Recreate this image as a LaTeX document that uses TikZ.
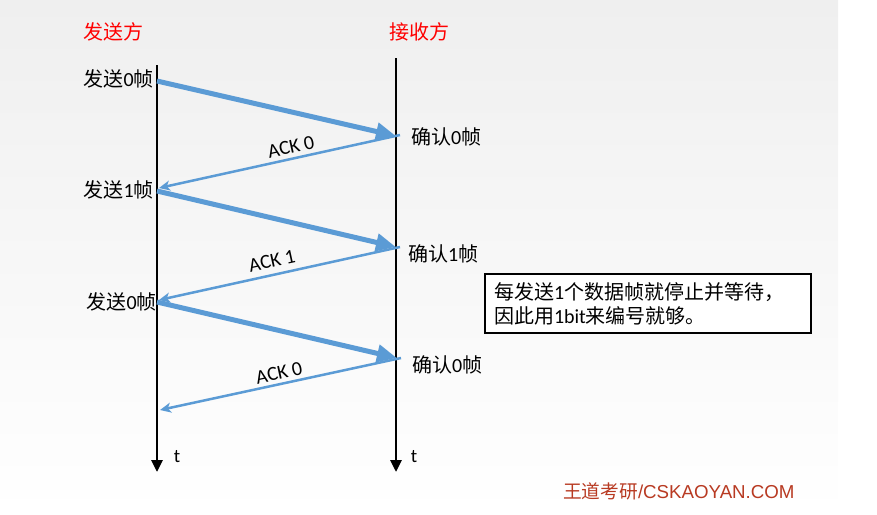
\documentclass[tikz,border=0pt]{standalone}
\usepackage{fontspec}
\setmainfont{Carlito}
\newfontfamily\cjk{Noto Sans CJK SC}
\newfontfamily\arialf{Liberation Sans}
\usetikzlibrary{arrows.meta}
\definecolor{ablue}{HTML}{5B9BD5}
\definecolor{hred}{HTML}{FF0000}
\definecolor{foot}{HTML}{B83A22}
\definecolor{bggray}{HTML}{EFEFEF}
\tikzset{
  timeline/.style={line width=2.8pt, -{Triangle[length=12pt,width=11pt]}},
  dataarrow/.style={ablue, line width=5pt, -{Triangle[length=20pt,width=17pt]}},
  ackarrow/.style={ablue, line width=2.5pt, -{Stealth[length=11pt,width=10pt,inset=3pt]}},
  header/.style={text=hred, font=\cjk\fontsize{20}{24}\selectfont, inner sep=0pt},
  evlabel/.style={font=\fontsize{20}{24}\selectfont, inner sep=0pt},
  acklabel/.style={font=\fontsize{20}{22}\selectfont, inner sep=0pt, rotate=12.3},
  tlabel/.style={font=\fontsize{19}{22}\selectfont, inner sep=0pt},
}
\begin{document}
\begin{tikzpicture}[x=1pt,y=-1pt]
\useasboundingbox (0,0) rectangle (877,514);
\shade[top color=bggray, bottom color=white] (0,0) rectangle (838,514);
% timelines
\coordinate (sTop) at (157,65);
\coordinate (sBot) at (157,472);
\coordinate (rTop) at (396,58);
\coordinate (rBot) at (396,472);
\draw[timeline] (sTop) -- (sBot);
\draw[timeline] (rTop) -- (rBot);
% headers
\node[header] (hs) at (113,32) {发送方};
\node[header] (hr) at (419,32) {接收方};
% event points
\coordinate (s1) at (157,81);
\coordinate (r1) at (396,136);
\coordinate (a1) at (400,135);
\coordinate (s2t) at (159,188);
\coordinate (s2) at (157,191);
\coordinate (r2) at (396,247);
\coordinate (a2) at (400,247);
\coordinate (s3t) at (159,300);
\coordinate (s3) at (157,302);
\coordinate (r3) at (397,358);
\coordinate (a3) at (401,358);
\coordinate (s4t) at (160,410);
% arrows
\draw[dataarrow] (s1) -- (r1);
\draw[ackarrow] (a1) -- (s2t);
\draw[dataarrow] (s2) -- (r2);
\draw[ackarrow] (a2) -- (s3t);
\draw[dataarrow] (s3) -- (r3);
\draw[ackarrow] (a3) -- (s4t);
% ACK labels
\node[acklabel] (ack1) at (291,147) {ACK 0};
\node[acklabel] (ack2) at (272,261) {ACK 1};
\node[acklabel] (ack3) at (279,373) {ACK 0};
% sender labels
\node[evlabel, anchor=east] (ls1) at (154,79) {{\cjk 发送}0{\cjk 帧}};
\node[evlabel, anchor=east] (ls2) at (154,190) {{\cjk 发送}1{\cjk 帧}};
\node[evlabel, anchor=east] (ls3) at (157,302) {{\cjk 发送}0{\cjk 帧}};
% receiver labels
\node[evlabel, anchor=west] (lr1) at (411,137) {{\cjk 确认}0{\cjk 帧}};
\node[evlabel, anchor=west] (lr2) at (408,254) {{\cjk 确认}1{\cjk 帧}};
\node[evlabel, anchor=west] (lr3) at (412,365) {{\cjk 确认}0{\cjk 帧}};
% time labels
\node[tlabel] (ts) at (177,457) {t};
\node[tlabel] (tr) at (414,457) {t};
% note box
\node[draw=black, line width=1.2pt, fill=white, inner xsep=9pt, inner ysep=0pt,
      text width=308pt, minimum height=59pt, align=left,
      font=\fontsize{20}{24}\selectfont] (note) at (648,303.5)
  {{\cjk 每发送}1{\cjk 个数据帧就停止并等待，}\\{\cjk 因此用}1bit{\cjk 来编号就够。}};
% footer
\node[text=foot, inner sep=0pt, font=\fontsize{18.7}{22}\selectfont, anchor=west] (footer) at (563,491)
  {{\cjk 王道考研}\arialf/CSKAOYAN.COM};
\end{tikzpicture}
\end{document}
